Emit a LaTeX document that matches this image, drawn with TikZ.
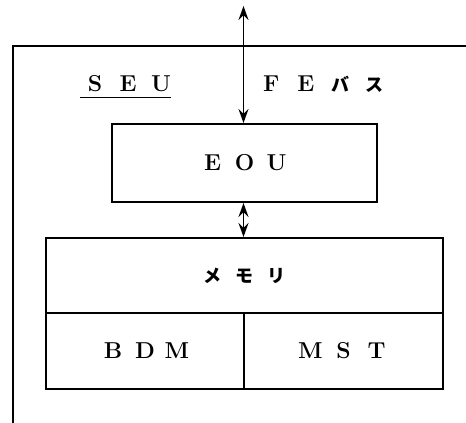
\documentclass[tikz,border=0pt]{standalone}
\usepackage{fontspec}
\newfontfamily\jpfont{Noto Sans CJK JP}
\usetikzlibrary{arrows.meta}

% letters set on a fixed pitch, as on a typewriter-style drawing
\newlength{\pitchlen}
\newcommand{\ltr}[1]{\makebox[\pitchlen]{#1}}
\newcommand{\spaced}[2]{\setlength{\pitchlen}{#1}#2}
\newcommand{\jp}{\jpfont\fontsize{18}{22}\selectfont\bfseries}
\newcommand{\lat}{\fontsize{23}{26}\selectfont\bfseries}

\begin{document}
\begin{tikzpicture}[x=1pt,y=-1pt,
  frameline/.style={line width=2pt},
  blockbox/.style={draw,line width=2pt,rectangle,inner sep=0pt},
  label/.style={inner sep=0pt},
  busarrow/.style={line width=1.8pt,
    {Stealth[length=14pt,width=10pt,inset=5pt]}-{Stealth[length=14pt,width=10pt,inset=5pt]}},
]
\useasboundingbox (0,0) rectangle (466,423);

% SEU enclosure, open to the right and at the bottom
\coordinate (fbl) at (13,423);
\coordinate (ftl) at (13,46);
\coordinate (ftr) at (466,46);
\draw[frameline] (fbl) -- (ftl) -- (ftr);

% blocks
\node[blockbox,minimum width=265pt,minimum height=78pt] (eou) at (244.5,163)
  {\lat\spaced{32pt}{\ltr{E}\ltr{O}\ltr{U}}};
\node[blockbox,minimum width=397pt,minimum height=75pt] (mem) at (244.5,275.5)
  {\jp\spaced{32pt}{\ltr{メ}\ltr{モ}\ltr{リ}}};
\node[blockbox,minimum width=198pt,minimum height=76pt] (bdm) at (145,351)
  {\lat\spaced{32pt}{\ltr{B}\ltr{D}\ltr{M}}};
\node[blockbox,minimum width=199pt,minimum height=76pt] (mst) at (343.5,351)
  {\lat\spaced{33pt}{\ltr{M}\ltr{S}\ltr{T}}};

% labels
\node[label] (seu) at (128,84) {\lat\spaced{33pt}{\ltr{S}\ltr{E}\ltr{U}}};
\draw[line width=1.3pt] ([xshift=2pt,yshift=-5pt]seu.south west) -- ([xshift=-7pt,yshift=-5pt]seu.south east);
\node[label] (febus) at (323,84)
  {\lat\spaced{34.5pt}{\ltr{F}\ltr{E}\ltr{\jp バ}\ltr{\jp ス}}};

% FE bus and internal connection
\coordinate (bustop) at (243.5,6);
\draw[busarrow] (bustop) -- (bustop |- eou.north);
\draw[busarrow] (eou.south -| bustop) -- (mem.north -| bustop);
\end{tikzpicture}
\end{document}
